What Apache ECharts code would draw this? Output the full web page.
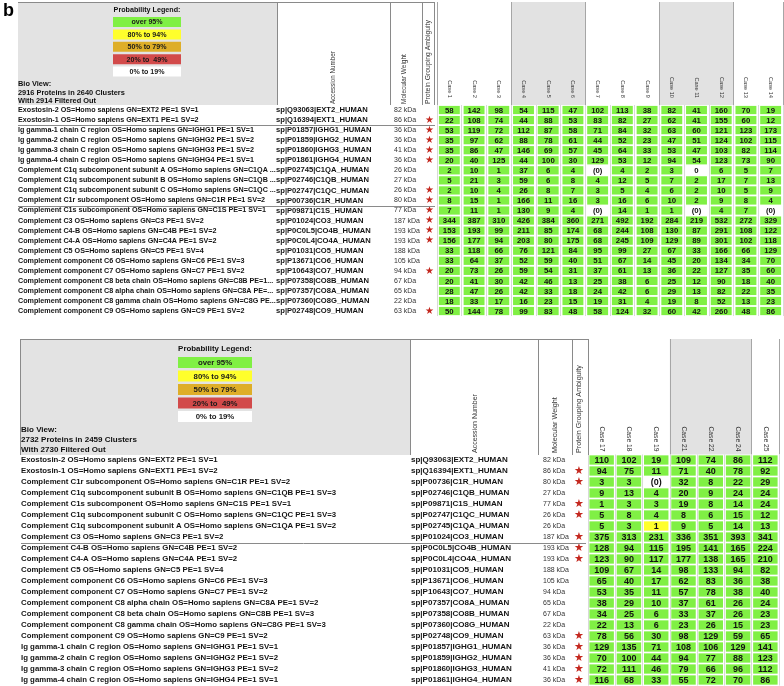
<!DOCTYPE html>
<html><head><meta charset="utf-8">
<script src="https://cdn.jsdelivr.net/npm/echarts@6/dist/echarts.min.js"></script>
<style>html,body{margin:0;padding:0;background:#fff}#c{width:784px;height:686px}</style>
</head><body><div id="c"></div>
<script>
// ---------------- DATA ----------------
const topCases = ['Case 1','Case 2','Case 3','Case 4','Case 5','Case 6','Case 7','Case 8','Case 9','Case 10','Case 11','Case 12','Case 13','Case 14'];
const topNames = [
 'Exostosin-2 OS=Homo sapiens GN=EXT2 PE=1 SV=1',
 'Exostosin-1 OS=Homo sapiens GN=EXT1 PE=1 SV=2',
 'Ig gamma-1 chain C region OS=Homo sapiens GN=IGHG1 PE=1 SV=1',
 'Ig gamma-2 chain C region OS=Homo sapiens GN=IGHG2 PE=1 SV=2',
 'Ig gamma-3 chain C region OS=Homo sapiens GN=IGHG3 PE=1 SV=2',
 'Ig gamma-4 chain C region OS=Homo sapiens GN=IGHG4 PE=1 SV=1',
 'Complement C1q subcomponent subunit A OS=Homo sapiens GN=C1QA ...',
 'Complement C1q subcomponent subunit B OS=Homo sapiens GN=C1QB ...',
 'Complement C1q subcomponent subunit C OS=Homo sapiens GN=C1QC ...',
 'Complement C1r subcomponent OS=Homo sapiens GN=C1R PE=1 SV=2',
 'Complement C1s subcomponent OS=Homo sapiens GN=C1S PE=1 SV=1',
 'Complement C3 OS=Homo sapiens GN=C3 PE=1 SV=2',
 'Complement C4-B OS=Homo sapiens GN=C4B PE=1 SV=2',
 'Complement C4-A OS=Homo sapiens GN=C4A PE=1 SV=2',
 'Complement C5 OS=Homo sapiens GN=C5 PE=1 SV=4',
 'Complement component C6 OS=Homo sapiens GN=C6 PE=1 SV=3',
 'Complement component C7 OS=Homo sapiens GN=C7 PE=1 SV=2',
 'Complement component C8 beta chain OS=Homo sapiens GN=C8B PE=1...',
 'Complement component C8 alpha chain OS=Homo sapiens GN=C8A PE=...',
 'Complement component C8 gamma chain OS=Homo sapiens GN=C8G PE...',
 'Complement component C9 OS=Homo sapiens GN=C9 PE=1 SV=2'
];
const topAccessions = ['sp|Q93063|EXT2_HUMAN','sp|Q16394|EXT1_HUMAN','sp|P01857|IGHG1_HUMAN','sp|P01859|IGHG2_HUMAN','sp|P01860|IGHG3_HUMAN','sp|P01861|IGHG4_HUMAN','sp|P02745|C1QA_HUMAN','sp|P02746|C1QB_HUMAN','sp|P02747|C1QC_HUMAN','sp|P00736|C1R_HUMAN','sp|P09871|C1S_HUMAN','sp|P01024|CO3_HUMAN','sp|P0C0L5|CO4B_HUMAN','sp|P0C0L4|CO4A_HUMAN','sp|P01031|CO5_HUMAN','sp|P13671|CO6_HUMAN','sp|P10643|CO7_HUMAN','sp|P07358|CO8B_HUMAN','sp|P07357|CO8A_HUMAN','sp|P07360|CO8G_HUMAN','sp|P02748|CO9_HUMAN'];
const topWeights = ['82 kDa','86 kDa','36 kDa','36 kDa','41 kDa','36 kDa','26 kDa','27 kDa','26 kDa','80 kDa','77 kDa','187 kDa','193 kDa','193 kDa','188 kDa','105 kDa','94 kDa','67 kDa','65 kDa','22 kDa','63 kDa'];
const topAmbiguity = [0,1,1,1,1,1,0,0,1,1,1,1,1,1,0,0,1,0,0,0,1];
const topCounts = [
 ['58','142','98','54','115','47','102','113','38','82','41','160','70','19'],
 ['22','108','74','44','88','53','83','82','27','62','41','155','60','12'],
 ['53','119','72','112','87','58','71','84','32','63','60','121','123','173'],
 ['35','97','62','88','78','61','44','52','23','47','51','124','102','115'],
 ['35','86','47','146','69','57','45','64','33','53','47','103','82','114'],
 ['20','40','125','44','100','30','129','53','12','94','54','123','73','90'],
 ['2','10','1','37','6','4','(0)','4','2','3','0','6','5','7'],
 ['5','21','3','59','6','8','4','12','5','7','2','17','7','13'],
 ['2','10','4','26','8','7','3','5','4','6','2','10','5','9'],
 ['8','15','1','166','11','16','3','16','6','10','2','9','8','4'],
 ['7','11','1','130','9','4','(0)','14','1','1','(0)','4','7','(0)'],
 ['344','387','310','426','384','360','271','492','192','284','219','532','272','329'],
 ['153','193','99','211','85','174','68','244','108','130','87','291','108','122'],
 ['156','177','94','203','80','175','68','245','109','129','89','301','102','118'],
 ['33','118','66','76','121','84','95','99','27','67','33','166','66','129'],
 ['33','64','37','52','59','40','51','67','14','45','20','134','34','70'],
 ['20','73','26','59','54','31','37','61','13','36','22','127','35','60'],
 ['20','41','30','42','46','13','25','38','6','25','12','90','18','40'],
 ['28','47','26','42','33','18','24','42','6','29','13','82','22','35'],
 ['18','33','17','16','23','15','19','31','4','19','8','52','13','23'],
 ['50','144','78','99','83','48','58','124','32','60','42','260','48','86']
];
// probability class per cell: G over 95%, Y 80-94%, O 50-79%, R 20-49%, W 0-19%
const topProb = [
 'GGGGGGGGGGGGGG','GGGGGGGGGGGGGG','GGGGGGGGGGGGGG','GGGGGGGGGGGGGG','GGGGGGGGGGGGGG','GGGGGGGGGGGGGG',
 'GGGGGGWGGGWGGG','GGGGGGGGGGGGGG','GGGGGGGGGGGGGG','GGGGGGGGGGGGGG','GGGGGGWGGGWGGW',
 'GGGGGGGGGGGGGG','GGGGGGGGGGGGGG','GGGGGGGGGGGGGG','GGGGGGGGGGGGGG','GGGGGGGGGGGGGG',
 'GGGGGGGGGGGGGG','GGGGGGGGGGGGGG','GGGGGGGGGGGGGG','GGGGGGGGGGGGGG','GGGGGGGGGGGGGG'
];
const topGroupStarts = [2, 10];
const topSummary = ['Bio View:', '2916 Proteins in 2640 Clusters', 'With 2914 Filtered Out'];

const bottomCases = ['Case 17','Case 18','Case 19','Case 21','Case 22','Case 24','Case 25'];
const bottomNames = [
 'Exostosin-2 OS=Homo sapiens GN=EXT2 PE=1 SV=1',
 'Exostosin-1 OS=Homo sapiens GN=EXT1 PE=1 SV=2',
 'Complement C1r subcomponent OS=Homo sapiens GN=C1R PE=1 SV=2',
 'Complement C1q subcomponent subunit B OS=Homo sapiens GN=C1QB PE=1 SV=3',
 'Complement C1s subcomponent OS=Homo sapiens GN=C1S PE=1 SV=1',
 'Complement C1q subcomponent subunit C OS=Homo sapiens GN=C1QC PE=1 SV=3',
 'Complement C1q subcomponent subunit A OS=Homo sapiens GN=C1QA PE=1 SV=2',
 'Complement C3 OS=Homo sapiens GN=C3 PE=1 SV=2',
 'Complement C4-B OS=Homo sapiens GN=C4B PE=1 SV=2',
 'Complement C4-A OS=Homo sapiens GN=C4A PE=1 SV=2',
 'Complement C5 OS=Homo sapiens GN=C5 PE=1 SV=4',
 'Complement component C6 OS=Homo sapiens GN=C6 PE=1 SV=3',
 'Complement component C7 OS=Homo sapiens GN=C7 PE=1 SV=2',
 'Complement component C8 alpha chain OS=Homo sapiens GN=C8A PE=1 SV=2',
 'Complement component C8 beta chain OS=Homo sapiens GN=C8B PE=1 SV=3',
 'Complement component C8 gamma chain OS=Homo sapiens GN=C8G PE=1 SV=3',
 'Complement component C9 OS=Homo sapiens GN=C9 PE=1 SV=2',
 'Ig gamma-1 chain C region OS=Homo sapiens GN=IGHG1 PE=1 SV=1',
 'Ig gamma-2 chain C region OS=Homo sapiens GN=IGHG2 PE=1 SV=2',
 'Ig gamma-3 chain C region OS=Homo sapiens GN=IGHG3 PE=1 SV=2',
 'Ig gamma-4 chain C region OS=Homo sapiens GN=IGHG4 PE=1 SV=1'
];
const bottomAccessions = ['sp|Q93063|EXT2_HUMAN','sp|Q16394|EXT1_HUMAN','sp|P00736|C1R_HUMAN','sp|P02746|C1QB_HUMAN','sp|P09871|C1S_HUMAN','sp|P02747|C1QC_HUMAN','sp|P02745|C1QA_HUMAN','sp|P01024|CO3_HUMAN','sp|P0C0L5|CO4B_HUMAN','sp|P0C0L4|CO4A_HUMAN','sp|P01031|CO5_HUMAN','sp|P13671|CO6_HUMAN','sp|P10643|CO7_HUMAN','sp|P07357|CO8A_HUMAN','sp|P07358|CO8B_HUMAN','sp|P07360|CO8G_HUMAN','sp|P02748|CO9_HUMAN','sp|P01857|IGHG1_HUMAN','sp|P01859|IGHG2_HUMAN','sp|P01860|IGHG3_HUMAN','sp|P01861|IGHG4_HUMAN'];
const bottomWeights = ['82 kDa','86 kDa','80 kDa','27 kDa','77 kDa','26 kDa','26 kDa','187 kDa','193 kDa','193 kDa','188 kDa','105 kDa','94 kDa','65 kDa','67 kDa','22 kDa','63 kDa','36 kDa','36 kDa','41 kDa','36 kDa'];
const bottomAmbiguity = [0,1,1,0,1,1,0,1,1,1,0,0,0,0,0,0,1,1,1,1,1];
const bottomCounts = [
 ['110','102','19','109','74','86','112'],
 ['94','75','11','71','40','78','92'],
 ['3','3','(0)','32','8','22','29'],
 ['9','13','4','20','9','24','24'],
 ['1','3','3','19','8','14','24'],
 ['5','8','4','8','6','15','12'],
 ['5','3','1','9','5','14','13'],
 ['375','313','231','336','351','393','341'],
 ['128','94','115','195','141','165','224'],
 ['123','90','117','177','138','165','210'],
 ['109','67','14','98','133','94','82'],
 ['65','40','17','62','83','36','38'],
 ['53','35','11','57','78','38','40'],
 ['38','29','10','37','61','26','24'],
 ['34','25','6','33','37','26','23'],
 ['22','13','6','23','26','15','23'],
 ['78','56','30','98','129','59','65'],
 ['129','135','71','108','106','129','141'],
 ['70','100','44','94','77','88','123'],
 ['72','111','46','79','66','96','112'],
 ['116','68','33','55','72','70','86']
];
const bottomProb = ['GGGGGGG','GGGGGGG','GGWGGGG','GGGGGGG','GGGGGGG','GGGGGGG','GGYGGGG','GGGGGGG','GGGGGGG','GGGGGGG','GGGGGGG','GGGGGGG','GGGGGGG','GGGGGGG','GGGGGGG','GGGGGGG','GGGGGGG','GGGGGGG','GGGGGGG','GGGGGGG','GGGGGGG'];
const bottomGroupStarts = [8];
const bottomSummary = ['Bio View:', '2732 Proteins in 2459 Clusters', 'With 2730 Filtered Out'];

const legendKeys = ['G','Y','O','R','W'];
const legendLabels = ['over 95%','80% to 94%','50% to 79%','20% to  49%','0% to 19%'];
const columnHeaders = ['Accession Number','Molecular Weight','Protein Grouping Ambiguity'];

// ---------------- STYLE / LAYOUT ----------------
const FONT = '"Liberation Sans", Arial, sans-serif';
const probColors = {G:'#80f044', Y:'#ffff2c', O:'#deae28', R:'#d24a4a', W:'#ffffff'};

// font size that makes a sample string span a given width
const mctx = document.createElement('canvas').getContext('2d');
function fit(sample, width, weight) {
  mctx.font = (weight || 'normal') + ' 10px ' + FONT;
  return 10 * width / mctx.measureText(sample).width;
}

const panels = [
 {cases:topCases, names:topNames, acc:topAccessions, mw:topWeights, amb:topAmbiguity, counts:topCounts, prob:topProb,
  groups:topGroupStarts, summary:topSummary,
  left:437, width:346, headTop:2, dataTop:105, rowH:10.05,
  nameX:18, accX:276, mwX:394, starX:429,
  fName:fit(topNames[0], 181, 'bold'), fAcc:fit(topAccessions[0], 92, 'bold'), fMw:fit('187 kDa', 26),
  fStar:10, fCell:fit('344', 13, 'bold'), fCase:fit('Case 10', 21), caseMargin:7, gapX:3.8, gapY:1.8,
  box:{x:18, y:2, w:259, h:103}, accLine:390, mwLine:422, pgaLine:434,
  hdr:[{x:333, size:fit(columnHeaders[0], 53)},{x:404, size:fit(columnHeaders[1], 50)},{x:428.5, size:fit(columnHeaders[2], 84)}], hdrBottom:104,
  legTitle:{x:147, y:10, size:fit('Probability Legend:', 67, 'bold')},
  sw:{x:113, w:68, h:10, y0:17, dy:12.4, size:fit('80% to 94%', 39, 'bold')},
  sumX:18, sumY:[84, 92.5, 101], sumSize:fit(topSummary[1], 107, 'bold')},
 {cases:bottomCases, names:bottomNames, acc:bottomAccessions, mw:bottomWeights, amb:bottomAmbiguity, counts:bottomCounts, prob:bottomProb,
  groups:bottomGroupStarts, summary:bottomSummary,
  left:588, width:191, headTop:339, dataTop:454.5, rowH:11,
  nameX:21, accX:411, mwX:543, starX:579,
  fName:fit(bottomNames[0], 197, 'bold'), fAcc:fit(bottomAccessions[0], 97, 'bold'), fMw:fit('187 kDa', 26),
  fStar:11, fCell:fit('375', 15, 'bold'), fCase:fit('Case 17', 25), caseMargin:3, gapX:2.8, gapY:1.7,
  box:{x:20, y:339, w:390, h:116}, accLine:538, mwLine:572, pgaLine:588,
  hdr:[{x:475, size:fit(columnHeaders[0], 59)},{x:555, size:fit(columnHeaders[1], 56)},{x:579.5, size:fit(columnHeaders[2], 88)}], hdrBottom:453,
  legTitle:{x:215, y:349, size:fit('Probability Legend:', 74, 'bold')},
  sw:{x:178, w:74, h:11, y0:357, dy:13.5, size:fit('80% to 94%', 43, 'bold')},
  sumX:21, sumY:[430, 440, 449.5], sumSize:fit(bottomSummary[1], 116, 'bold')}
];

const chart = echarts.init(document.getElementById('c'), null, {renderer:'canvas'});
const grid = [], xAxis = [], yAxis = [], series = [], graphic = [];
const cellSeriesIdx = [];

graphic.push({type:'text', x:3, y:2, z:10, style:{text:'b', font:'bold 18px ' + FONT, fill:'#000', verticalAlign:'top'}});

panels.forEach((p) => {
  const n = p.names.length;
  graphic.push({type:'rect', z:0, shape:{x:p.box.x, y:p.box.y, width:p.box.w, height:p.box.h}, style:{fill:'#e3e3e3'}});
  const lineStyle = {stroke:'#8a8a8a', lineWidth:1};
  const hb = p.box.y + p.box.h;
  [p.box.x + p.box.w, p.accLine, p.mwLine, p.pgaLine].forEach(x => {
    graphic.push({type:'line', z:5, shape:{x1:x + 0.5, y1:p.box.y, x2:x + 0.5, y2:hb}, style:lineStyle});
  });
  graphic.push({type:'line', z:5, shape:{x1:p.box.x, y1:p.box.y + 0.5, x2:p.pgaLine, y2:p.box.y + 0.5}, style:lineStyle});
  if (p === panels[1]) graphic.push({type:'line', z:5, shape:{x1:p.box.x + 0.5, y1:p.box.y, x2:p.box.x + 0.5, y2:hb}, style:lineStyle});
  columnHeaders.forEach((t, i) => {
    graphic.push({type:'text', z:6, x:p.hdr[i].x, y:p.hdrBottom, rotation:Math.PI / 2,
      style:{text:t, font:p.hdr[i].size + 'px ' + FONT, fill:'#333', align:'left', verticalAlign:'middle'}});
  });
  graphic.push({type:'text', z:6, x:p.legTitle.x, y:p.legTitle.y, style:{text:'Probability Legend:', font:'bold ' + p.legTitle.size + 'px ' + FONT, fill:'#111', align:'center', verticalAlign:'middle'}});
  legendKeys.forEach((k, i) => {
    const y = p.sw.y0 + i * p.sw.dy;
    graphic.push({type:'rect', z:6, shape:{x:p.sw.x, y:y, width:p.sw.w, height:p.sw.h}, style:{fill:probColors[k]}});
    graphic.push({type:'text', z:7, x:p.sw.x + p.sw.w / 2, y:y + p.sw.h / 2 + 0.5, style:{text:legendLabels[i], font:'bold ' + p.sw.size + 'px ' + FONT, fill:'#1a1a1a', align:'center', verticalAlign:'middle'}});
  });
  p.summary.forEach((t, i) => {
    graphic.push({type:'text', z:6, x:p.sumX, y:p.sumY[i], style:{text:t, font:'bold ' + p.sumSize + 'px ' + FONT, fill:'#111', align:'left', verticalAlign:'middle'}});
  });

  const gHead = grid.length; grid.push({left:p.left, top:p.headTop, width:p.width, height:p.dataTop - p.headTop});
  const gData = grid.length; grid.push({left:p.left, top:p.dataTop, width:p.width, height:n * p.rowH});
  xAxis.push({gridIndex:gHead, type:'category', data:p.cases, axisLine:{show:false}, axisTick:{show:false}, axisLabel:{show:false},
    splitArea:{show:true, areaStyle:{color:['#ffffff', '#e2e2e2']}}, splitLine:{show:true, lineStyle:{color:'#a6a6a6'}}});
  const xData = xAxis.length;
  xAxis.push({gridIndex:gData, type:'category', position:'top', data:p.cases, axisLine:{show:false}, axisTick:{show:false},
    axisLabel:{interval:0, rotate:90, fontSize:p.fCase, color:'#333', margin:p.caseMargin, fontFamily:FONT},
    splitLine:{show:true, lineStyle:{color:'#d9d9d9'}}});
  yAxis.push({gridIndex:gHead, type:'value', min:0, max:1, show:false});
  const cols = [
    {data:p.names, x:p.nameX, align:'left', size:p.fName, weight:'bold', color:'#141414'},
    {data:p.acc, x:p.accX, align:'left', size:p.fAcc, weight:'bold', color:'#141414'},
    {data:p.mw, x:p.mwX, align:'left', size:p.fMw, weight:'normal', color:'#333'},
    {data:p.amb.map(a => a ? '★' : ''), x:p.starX, align:'center', size:p.fStar, weight:'normal', color:'#c4281f'}
  ];
  const yFirst = yAxis.length;
  cols.forEach(c => yAxis.push({gridIndex:gData, type:'category', inverse:true, position:'left', offset:p.left - c.x,
    data:c.data, axisLine:{show:false}, axisTick:{show:false}, splitLine:{show:false},
    axisLabel:{interval:0, align:c.align, margin:0, fontSize:c.size, fontWeight:c.weight, color:c.color, fontFamily:FONT}}));

  const cells = [];
  p.counts.forEach((row, r) => row.forEach((v, c) => cells.push({value:[c, r], label:v, prob:p.prob[r][c]})));
  cellSeriesIdx.push(series.length);
  series.push({type:'custom', xAxisIndex:xData, yAxisIndex:yFirst, silent:true,
    data:cells.map(d => d.value),
    renderItem:(params, api) => {
      const d = cells[params.dataIndex];
      const ctr = api.coord([api.value(0), api.value(1)]);
      const sz = api.size([1, 1]);
      const w = sz[0] - p.gapX, h = sz[1] - p.gapY;
      return {type:'group', children:[
        {type:'rect', shape:{x:ctr[0] - w / 2, y:ctr[1] - h / 2, width:w, height:h}, style:{fill:probColors[d.prob]}},
        {type:'text', style:{text:d.label, x:ctr[0], y:ctr[1] + 0.5, align:'center', verticalAlign:'middle',
          font:'bold ' + p.fCell + 'px ' + FONT, fill:'#111'}}
      ]};
    }});
});

chart.setOption({animation:false, backgroundColor:'#fff', grid, xAxis, yAxis, series, graphic});

panels.forEach((p, k) => {
  p.groups.forEach(r => {
    const a = chart.convertToPixel({seriesIndex:cellSeriesIdx[k]}, [0, r - 1]);
    const b = chart.convertToPixel({seriesIndex:cellSeriesIdx[k]}, [0, r]);
    const y = Math.round((a[1] + b[1]) / 2) + 0.5;
    graphic.push({type:'line', z:5, shape:{x1:p.nameX, y1:y, x2:p.left - 2, y2:y}, style:{stroke:'#8a8a8a', lineWidth:1}});
  });
});
chart.setOption({graphic});
</script></body></html>
